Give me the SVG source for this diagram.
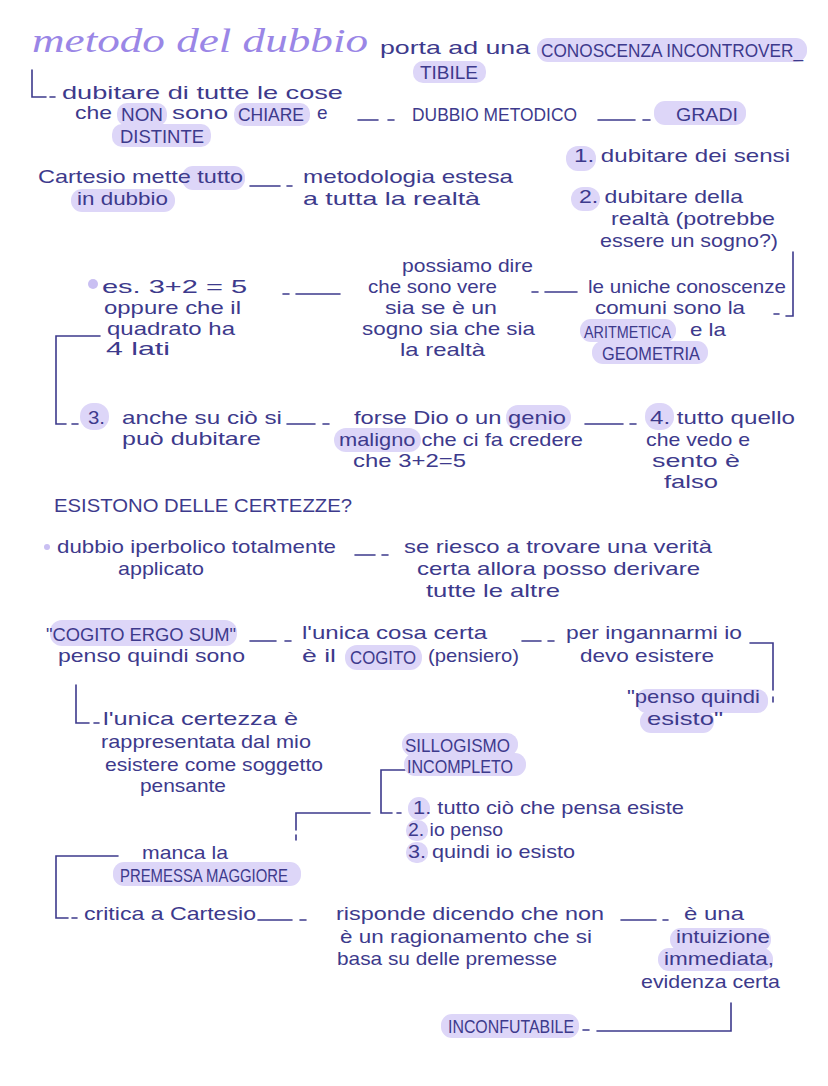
<svg xmlns="http://www.w3.org/2000/svg" width="828" height="1086" viewBox="0 0 828 1086">
<style>
text{font-family:"Liberation Sans","DejaVu Sans",sans-serif;fill:#3d3a8c;font-size:19px}
.cap{font-size:18.5px}
.ttl{font-family:"Liberation Serif",serif;font-style:italic;fill:#9a86e6;font-size:34px}
.hl{fill:#ddd6f8}
.ln{stroke:#3d3a8c;stroke-width:1.6;fill:none;stroke-linecap:round}
.dot{fill:#c9bff2}
</style>
<rect width="828" height="1086" fill="#ffffff"/>

<g id="connectors">
<path class="ln" d="M32 70V97H46M50 97H55"/>
<path class="ln" d="M358 120H378M388 120H394"/>
<path class="ln" d="M598 120H635M643 120H650"/>
<path class="ln" d="M250 186H280M287 186H292"/>
<path class="ln" d="M793 252V316H786M779 314H774"/>
<path class="ln" d="M283 294H289M296 294H340"/>
<path class="ln" d="M532 292H538M545 292H577"/>
<path class="ln" d="M100 336H56V424H66M72 424H78"/>
<path class="ln" d="M287 424H315M323 424H329"/>
<path class="ln" d="M585 424H623M630 424H636"/>
<path class="ln" d="M355 555H375M382 555H388"/>
<path class="ln" d="M250 641H276M285 641H291"/>
<path class="ln" d="M522 641H541M548 641H554"/>
<path class="ln" d="M750 643H773V690M773 697V702"/>
<path class="ln" d="M76 685V723H89M94 723H99"/>
<path class="ln" d="M405 770H381V813H392M397 813H401"/>
<path class="ln" d="M370 813H296V830M296 835V840"/>
<path class="ln" d="M118 856H56V918H68M72 918H77"/>
<path class="ln" d="M258 920H292M300 920H306"/>
<path class="ln" d="M621 920H656M663 920H668"/>
<path class="ln" d="M731 1003V1031H597M589 1030H583"/>
</g>

<g id="title">
<text class="ttl" x="32" y="52" textLength="336" lengthAdjust="spacingAndGlyphs">metodo del dubbio</text>
</g>

<g id="n-porta">
<rect class="hl" x="537" y="38" width="270" height="24" rx="11"/>
<rect class="hl" x="413" y="61" width="73" height="22" rx="10"/>
<text x="380" y="54" textLength="150" lengthAdjust="spacingAndGlyphs">porta ad una</text>
<text class="cap" x="541" y="57" textLength="262" lengthAdjust="spacingAndGlyphs">CONOSCENZA INCONTROVER_</text>
<text class="cap" x="420" y="79" textLength="58" lengthAdjust="spacingAndGlyphs">TIBILE</text>
</g>

<g id="n-dubitare">
<rect class="hl" x="117" y="103" width="50" height="23" rx="10"/>
<rect class="hl" x="234" y="103" width="76" height="23" rx="10"/>
<rect class="hl" x="112" y="124" width="99" height="23" rx="10"/>
<text x="62" y="99" textLength="281" lengthAdjust="spacingAndGlyphs">dubitare di tutte le cose</text>
<text x="75" y="119" textLength="37" lengthAdjust="spacingAndGlyphs">che</text>
<text class="cap" x="121" y="121" textLength="42" lengthAdjust="spacingAndGlyphs">NON</text>
<text x="172" y="119" textLength="56" lengthAdjust="spacingAndGlyphs">sono</text>
<text class="cap" x="238" y="121" textLength="66" lengthAdjust="spacingAndGlyphs">CHIARE</text>
<text x="317" y="119">e</text>
<text class="cap" x="120" y="143" textLength="84" lengthAdjust="spacingAndGlyphs">DISTINTE</text>
</g>

<g id="n-metodico">
<text class="cap" x="412" y="121" textLength="165" lengthAdjust="spacingAndGlyphs">DUBBIO METODICO</text>
</g>

<g id="n-gradi">
<rect class="hl" x="654" y="101" width="92" height="24" rx="11"/>
<text class="cap" x="676" y="121" textLength="62" lengthAdjust="spacingAndGlyphs">GRADI</text>
</g>

<g id="n-grado1">
<rect class="hl" x="566" y="146" width="30" height="25" rx="12"/>
<text x="574" y="162" textLength="216" lengthAdjust="spacingAndGlyphs">1.  dubitare dei sensi</text>
</g>

<g id="n-cartesio">
<rect class="hl" x="182" y="166" width="63" height="24" rx="11"/>
<rect class="hl" x="71" y="189" width="104" height="23" rx="11"/>
<text x="38" y="183" textLength="205" lengthAdjust="spacingAndGlyphs">Cartesio mette tutto</text>
<text x="77" y="205" textLength="91" lengthAdjust="spacingAndGlyphs">in dubbio</text>
</g>

<g id="n-metodologia">
<text x="303" y="183" textLength="210" lengthAdjust="spacingAndGlyphs">metodologia estesa</text>
<text x="303" y="205" textLength="177" lengthAdjust="spacingAndGlyphs">a tutta la realtà</text>
</g>

<g id="n-grado2">
<rect class="hl" x="571" y="187" width="29" height="24" rx="12"/>
<text x="579" y="203" textLength="164" lengthAdjust="spacingAndGlyphs">2. dubitare della</text>
<text x="611" y="225" textLength="164" lengthAdjust="spacingAndGlyphs">realtà (potrebbe</text>
<text x="600" y="247" textLength="178" lengthAdjust="spacingAndGlyphs">essere un sogno?)</text>
</g>

<g id="n-es">
<circle class="dot" cx="93" cy="284" r="5"/>
<text x="102" y="293" textLength="145" lengthAdjust="spacingAndGlyphs">es. 3+2 = 5</text>
<text x="104" y="314" textLength="137" lengthAdjust="spacingAndGlyphs">oppure che il</text>
<text x="107" y="335" textLength="128" lengthAdjust="spacingAndGlyphs">quadrato ha</text>
<text x="106" y="355" textLength="64" lengthAdjust="spacingAndGlyphs">4 lati</text>
</g>

<g id="n-possiamo">
<text x="402" y="272" textLength="131" lengthAdjust="spacingAndGlyphs">possiamo dire</text>
<text x="368" y="293" textLength="129" lengthAdjust="spacingAndGlyphs">che sono vere</text>
<text x="385" y="314" textLength="112" lengthAdjust="spacingAndGlyphs">sia se è un</text>
<text x="362" y="335" textLength="173" lengthAdjust="spacingAndGlyphs">sogno sia che sia</text>
<text x="400" y="356" textLength="85" lengthAdjust="spacingAndGlyphs">la realtà</text>
</g>

<g id="n-uniche">
<rect class="hl" x="580" y="319" width="96" height="23" rx="11"/>
<rect class="hl" x="592" y="341" width="116" height="23" rx="11"/>
<text x="588" y="293" textLength="198" lengthAdjust="spacingAndGlyphs">le uniche conoscenze</text>
<text x="595" y="314" textLength="150" lengthAdjust="spacingAndGlyphs">comuni sono la</text>
<text x="584" y="338" style="font-size:16px" textLength="87" lengthAdjust="spacingAndGlyphs">ARITMETICA</text>
<text x="690" y="336" textLength="36" lengthAdjust="spacingAndGlyphs">e la</text>
<text class="cap" x="602" y="360" textLength="98" lengthAdjust="spacingAndGlyphs">GEOMETRIA</text>
</g>

<g id="n-grado3">
<rect class="hl" x="80" y="403" width="29" height="27" rx="13"/>
<text x="88" y="424" textLength="17" lengthAdjust="spacingAndGlyphs">3.</text>
<text x="122" y="424" textLength="160" lengthAdjust="spacingAndGlyphs">anche su ciò si</text>
<text x="122" y="445" textLength="139" lengthAdjust="spacingAndGlyphs">può dubitare</text>
</g>

<g id="n-genio">
<rect class="hl" x="506" y="405" width="65" height="25" rx="12"/>
<rect class="hl" x="334" y="428" width="87" height="24" rx="12"/>
<text x="354" y="424" textLength="212" lengthAdjust="spacingAndGlyphs">forse Dio o un genio</text>
<text x="339" y="446" textLength="244" lengthAdjust="spacingAndGlyphs">maligno che ci fa credere</text>
<text x="353" y="467" textLength="113" lengthAdjust="spacingAndGlyphs">che 3+2=5</text>
</g>

<g id="n-grado4">
<rect class="hl" x="645" y="403" width="29" height="27" rx="13"/>
<text x="650" y="424" textLength="145" lengthAdjust="spacingAndGlyphs">4. tutto quello</text>
<text x="646" y="446" textLength="104" lengthAdjust="spacingAndGlyphs">che vedo e</text>
<text x="652" y="467" textLength="88" lengthAdjust="spacingAndGlyphs">sento è</text>
<text x="664" y="488" textLength="54" lengthAdjust="spacingAndGlyphs">falso</text>
</g>

<g id="n-esistono">
<text class="cap" x="54" y="512" textLength="298" lengthAdjust="spacingAndGlyphs">ESISTONO DELLE CERTEZZE?</text>
</g>

<g id="n-iperbolico">
<circle class="dot" cx="47" cy="547" r="3"/>
<text x="57" y="553" textLength="279" lengthAdjust="spacingAndGlyphs">dubbio iperbolico totalmente</text>
<text x="118" y="575" textLength="86" lengthAdjust="spacingAndGlyphs">applicato</text>
</g>

<g id="n-riesco">
<text x="404" y="553" textLength="308" lengthAdjust="spacingAndGlyphs">se riesco a trovare una verità</text>
<text x="417" y="575" textLength="283" lengthAdjust="spacingAndGlyphs">certa allora posso derivare</text>
<text x="426" y="597" textLength="134" lengthAdjust="spacingAndGlyphs">tutte le altre</text>
</g>

<g id="n-cogito">
<rect class="hl" x="50" y="620" width="187" height="26" rx="12"/>
<text class="cap" x="46" y="641" textLength="190" lengthAdjust="spacingAndGlyphs">"COGITO ERGO SUM"</text>
<text x="58" y="662" textLength="187" lengthAdjust="spacingAndGlyphs">penso quindi sono</text>
</g>

<g id="n-unica">
<rect class="hl" x="345" y="645" width="77" height="25" rx="12"/>
<text x="302" y="639" textLength="185" lengthAdjust="spacingAndGlyphs">l'unica cosa certa</text>
<text x="302" y="662" textLength="34" lengthAdjust="spacingAndGlyphs">è il</text>
<text class="cap" x="350" y="664" textLength="66" lengthAdjust="spacingAndGlyphs">COGITO</text>
<text x="428" y="662" textLength="91" lengthAdjust="spacingAndGlyphs">(pensiero)</text>
</g>

<g id="n-ingannarmi">
<text x="566" y="639" textLength="176" lengthAdjust="spacingAndGlyphs">per ingannarmi io</text>
<text x="580" y="662" textLength="134" lengthAdjust="spacingAndGlyphs">devo esistere</text>
</g>

<g id="n-esisto">
<rect class="hl" x="636" y="689" width="132" height="24" rx="11"/>
<rect class="hl" x="640" y="710" width="74" height="23" rx="11"/>
<text x="627" y="703" textLength="133" lengthAdjust="spacingAndGlyphs">"penso quindi</text>
<text x="647" y="725" textLength="76" lengthAdjust="spacingAndGlyphs">esisto"</text>
</g>

<g id="n-certezza">
<text x="103" y="725" textLength="195" lengthAdjust="spacingAndGlyphs">l'unica certezza è</text>
<text x="101" y="748" textLength="210" lengthAdjust="spacingAndGlyphs">rappresentata dal mio</text>
<text x="105" y="771" textLength="218" lengthAdjust="spacingAndGlyphs">esistere come soggetto</text>
<text x="140" y="792" textLength="86" lengthAdjust="spacingAndGlyphs">pensante</text>
</g>

<g id="n-sillogismo">
<rect class="hl" x="402" y="733" width="116" height="23" rx="11"/>
<rect class="hl" x="404" y="753" width="122" height="23" rx="11"/>
<text class="cap" x="405" y="752" textLength="105" lengthAdjust="spacingAndGlyphs">SILLOGISMO</text>
<text class="cap" x="407" y="773" textLength="106" lengthAdjust="spacingAndGlyphs">INCOMPLETO</text>
</g>

<g id="n-premesse">
<rect class="hl" x="408" y="797" width="22" height="23" rx="11"/>
<rect class="hl" x="406" y="820" width="22" height="21" rx="10"/>
<rect class="hl" x="406" y="842" width="22" height="21" rx="10"/>
<text x="413" y="814" textLength="271" lengthAdjust="spacingAndGlyphs">1. tutto ciò che pensa esiste</text>
<text x="408" y="836" textLength="95" lengthAdjust="spacingAndGlyphs">2. io penso</text>
<text x="408" y="858" textLength="167" lengthAdjust="spacingAndGlyphs">3. quindi io esisto</text>
</g>

<g id="n-manca">
<rect class="hl" x="113" y="862" width="188" height="24" rx="11"/>
<text x="142" y="859" textLength="86" lengthAdjust="spacingAndGlyphs">manca la</text>
<text class="cap" x="120" y="882" textLength="168" lengthAdjust="spacingAndGlyphs">PREMESSA MAGGIORE</text>
</g>

<g id="n-critica">
<text x="84" y="920" textLength="172" lengthAdjust="spacingAndGlyphs">critica a Cartesio</text>
</g>

<g id="n-risponde">
<text x="336" y="920" textLength="268" lengthAdjust="spacingAndGlyphs">risponde dicendo che non</text>
<text x="340" y="943" textLength="252" lengthAdjust="spacingAndGlyphs">è un ragionamento che si</text>
<text x="337" y="965" textLength="220" lengthAdjust="spacingAndGlyphs">basa su delle premesse</text>
</g>

<g id="n-intuizione">
<rect class="hl" x="670" y="928" width="101" height="23" rx="11"/>
<rect class="hl" x="658" y="948" width="115" height="23" rx="11"/>
<text x="684" y="920" textLength="60" lengthAdjust="spacingAndGlyphs">è una</text>
<text x="676" y="943" textLength="94" lengthAdjust="spacingAndGlyphs">intuizione</text>
<text x="664" y="965" textLength="110" lengthAdjust="spacingAndGlyphs">immediata,</text>
<text x="641" y="988" textLength="139" lengthAdjust="spacingAndGlyphs">evidenza certa</text>
</g>

<g id="n-inconfutabile">
<rect class="hl" x="441" y="1014" width="138" height="24" rx="11"/>
<text class="cap" x="448" y="1033" textLength="126" lengthAdjust="spacingAndGlyphs">INCONFUTABILE</text>
</g>
</svg>
